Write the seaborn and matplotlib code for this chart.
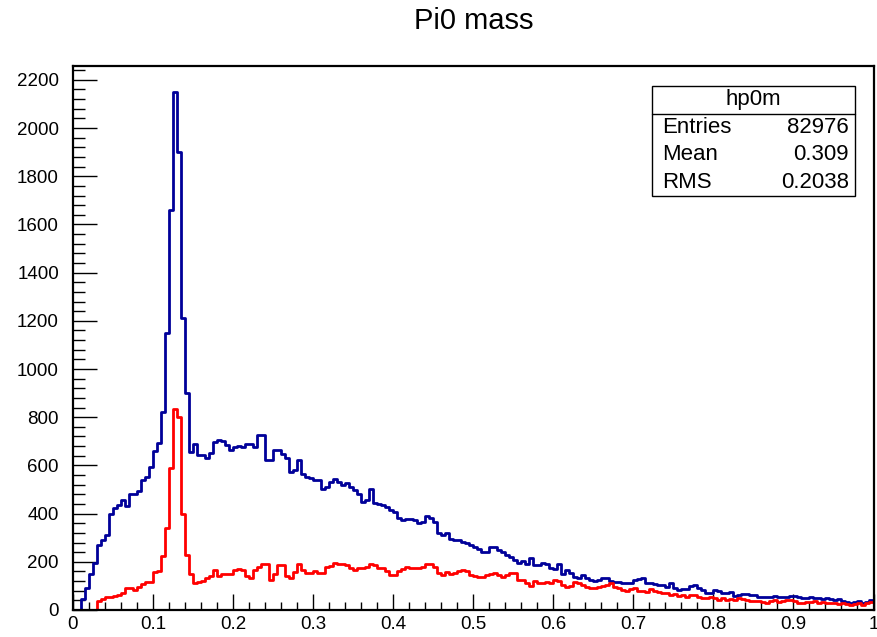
import numpy as np
import pandas as pd
import matplotlib
matplotlib.use("Agg")
import matplotlib.pyplot as plt
from matplotlib.ticker import MultipleLocator
from matplotlib.patches import Rectangle
import seaborn as sns

# ---- data (200 bins of width 0.005 over [0, 1]) ----
n_bins = 200
x_range = (0.0, 1.0)

hp0m_counts = [
    0, 0, 45, 90, 150, 195, 270, 290, 310, 400, 425, 435, 455, 430, 480, 480, 495, 540, 550, 595,
    660, 695, 820, 1150, 1660, 2150, 1900, 1210, 900, 655, 690,
    642, 642, 632, 650, 697, 704, 700, 683, 663, 677, 679, 676, 688, 688, 676, 725, 725, 621, 621,
    663, 663, 649, 630, 573, 580, 621, 566, 552, 549, 541, 538, 504, 510, 531, 545,
    530, 518, 525, 511, 500, 483, 449, 455, 504, 442, 439, 435, 428, 414, 407, 380, 373, 376, 376,
    373, 359, 366, 389, 380, 366, 320, 311, 320, 293, 290, 290, 283, 276, 270, 262,
    252, 242, 242, 262, 262, 250, 242, 228, 221, 207, 195, 205, 190, 214, 186, 186, 193, 190, 175,
    172, 190, 150, 166, 155, 138, 131, 145, 131, 124, 120, 124, 131, 131, 120,
    117, 117, 110, 110, 110, 124, 127, 131, 110, 110, 108, 104, 104, 97, 113, 90, 83, 86, 86, 99,
    104, 90, 83, 69, 69, 83, 80, 69, 72, 76, 60, 62, 66, 66, 64, 64,
    55, 55, 52, 55, 58, 55, 52, 52, 58, 58, 52, 48, 48, 52, 48, 48, 44, 48, 44, 41, 44, 39, 34,
    30, 33, 39, 30, 34, 41,
]

selected_counts = [
    0, 0, 0, 0, 0, 0, 39, 44, 52, 55, 59, 63, 70, 91, 91, 83, 95, 108, 115, 118,
    156, 163, 225, 342, 590, 835, 800, 400, 230, 150, 110,
    117, 120, 131, 140, 168, 140, 149, 150, 150, 165, 172, 165, 140, 131, 165, 180, 190, 190, 124,
    150, 186, 186, 140, 131, 159, 190, 165, 152, 152, 163, 155, 152, 179, 182, 196, 190,
    190, 186, 173, 165, 173, 173, 180, 190, 185, 173, 173, 160, 145, 145, 160, 170, 179, 175, 176,
    173, 180, 190, 190, 178, 155, 145, 159, 150, 155, 160, 166, 160, 145, 140,
    135, 138, 145, 150, 152, 145, 138, 145, 152, 152, 124, 124, 110, 100, 120, 112, 110, 115, 110,
    124, 120, 103, 97, 100, 115, 113, 105, 97, 92, 92, 94, 99, 103, 110,
    97, 90, 83, 80, 86, 90, 80, 80, 76, 88, 80, 76, 69, 70, 62, 66, 58, 62, 55, 62,
    62, 55, 48, 48, 52, 48, 41, 48, 41, 45, 41, 48, 45, 41, 39, 37,
    37, 34, 30, 39, 41, 34, 39, 41, 41, 39, 30, 27, 34, 34, 39, 30, 34, 27, 30, 30, 25, 30, 25,
    21, 25, 27, 21, 27, 34,
]

title_text = "Pi0 mass"
stats_name = "hp0m"
stats_rows = [("Entries", "82976"), ("Mean", "0.309"), ("RMS", "0.2038")]

assert len(hp0m_counts) == n_bins and len(selected_counts) == n_bins

bin_edges = np.linspace(x_range[0], x_range[1], n_bins + 1)
centers = 0.5 * (bin_edges[:-1] + bin_edges[1:])
df_all = pd.DataFrame({"mass": centers, "count": np.asarray(hp0m_counts, dtype=float)})
df_sel = pd.DataFrame({"mass": centers, "count": np.asarray(selected_counts, dtype=float)})

# ---- style ----
sns.set_style("ticks")
plt.rcParams["font.family"] = ["Liberation Sans", "DejaVu Sans"]
plt.rcParams["text.color"] = "black"
plt.rcParams["xtick.color"] = "black"
plt.rcParams["ytick.color"] = "black"
plt.rcParams["axes.labelcolor"] = "black"

W, H = 877, 637
fig = plt.figure(figsize=(W / 100, H / 100), dpi=100)
left, right, bottom, top = 72.8, 873.5, 610, 66
ax = fig.add_axes([left / W, 1 - bottom / H, (right - left) / W, (bottom - top) / H])

sns.histplot(data=df_all, x="mass", weights="count", bins=n_bins, binrange=x_range,
             element="step", fill=False, color="#000099", linewidth=2.0, ax=ax)
sns.histplot(data=df_sel, x="mass", weights="count", bins=n_bins, binrange=x_range,
             element="step", fill=False, color="#ff0000", linewidth=2.0, ax=ax)

ax.set_xlim(0, 1)
ax.set_ylim(0, 1.05 * max(hp0m_counts))
ax.set_xlabel("")
ax.set_ylabel("")

ax.xaxis.set_major_locator(MultipleLocator(0.1))
ax.xaxis.set_minor_locator(MultipleLocator(0.02))
ax.yaxis.set_major_locator(MultipleLocator(200))
ax.yaxis.set_minor_locator(MultipleLocator(40))
ax.xaxis.set_major_formatter(matplotlib.ticker.FuncFormatter(lambda v, p: f"{v:g}"))

ax.tick_params(axis="x", which="major", direction="in", length=11.5, width=1.0,
               labelsize=13.5, pad=4, top=False, colors="black")
ax.tick_params(axis="x", which="minor", direction="in", length=5.8, width=1.0, top=False,
               colors="black")
ax.tick_params(axis="y", which="major", direction="in", length=17, width=1.0,
               labelsize=13.5, pad=10, right=False, colors="black")
ax.tick_params(axis="y", which="minor", direction="in", length=8.5, width=1.0, right=False,
               colors="black")

for s in ax.spines.values():
    s.set_visible(True)
    s.set_linewidth(1.6)
    s.set_color("black")

# ---- title ----
fig.text(474 / W, 1 - 21 / H, title_text, ha="center", va="center", fontsize=21,
         color="black")

# ---- stats box ----
bx0, bx1, by0, by1 = 652, 855, 86, 196
row_h = (by1 - by0) / 4.0
fig.patches.append(Rectangle((bx0 / W, 1 - by1 / H), (bx1 - bx0) / W, (by1 - by0) / H,
                             transform=fig.transFigure, fill=True, facecolor="white",
                             edgecolor="black", linewidth=1.0, zorder=5))
fig.lines.append(matplotlib.lines.Line2D([bx0 / W, bx1 / W],
                                         [1 - (by0 + row_h) / H, 1 - (by0 + row_h) / H],
                                         transform=fig.transFigure, color="black",
                                         linewidth=1.0, zorder=6))
fig.text((bx0 + bx1) / 2 / W, 1 - (by0 + row_h / 2) / H, stats_name,
         ha="center", va="center", fontsize=16, zorder=7, color="black")
for i, (k, v) in enumerate(stats_rows):
    yc = 1 - (by0 + row_h * (i + 1.5)) / H
    fig.text((bx0 + 10) / W, yc, k, ha="left", va="center", fontsize=16, zorder=7,
             color="black")
    fig.text((bx1 - 6) / W, yc, v, ha="right", va="center", fontsize=16, zorder=7,
             color="black")

fig.savefig("out.png", dpi=100)
